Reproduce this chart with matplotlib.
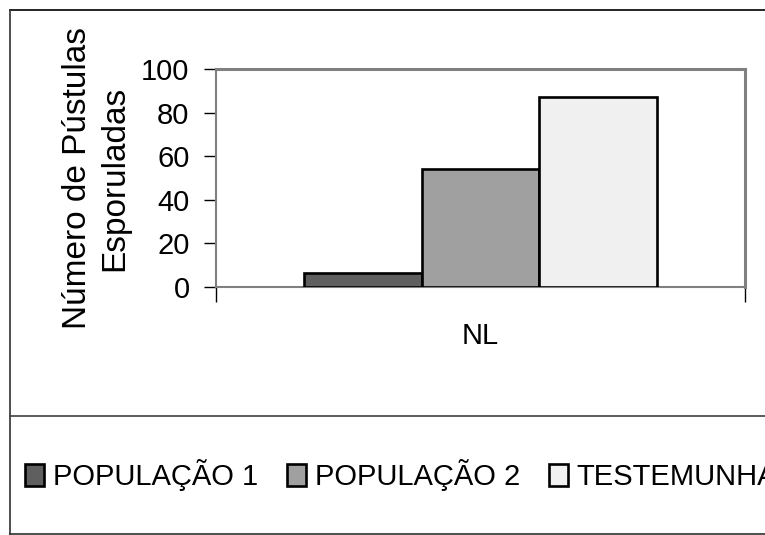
import matplotlib
matplotlib.use('Agg')
import matplotlib.pyplot as plt
from matplotlib.lines import Line2D

plt.rcParams['font.family'] = ['Liberation Sans', 'DejaVu Sans']

# dados do gráfico
categorias = ['NL']
series = ['POPULAÇÃO 1', 'POPULAÇÃO 2', 'TESTEMUNHA']
valores = [6.5, 54, 87]
cores = ['#5f5f5f', '#a0a0a0', '#f0f0f0']
yticks = [0, 20, 40, 60, 80, 100]

fig = plt.figure(figsize=(7.65, 5.35), dpi=100)
ax = fig.add_axes([216 / 765, 1 - 287 / 535, 529 / 765, 218 / 535])

largura = (2 / 3) / len(series)
for i, (nome, v, c) in enumerate(zip(series, valores, cores)):
    desloc = (i - 1) * largura
    ax.bar(0 + desloc, v, width=largura, color=c, edgecolor='black',
           linewidth=1.9, label=nome, zorder=3)

ax.set_xlim(-0.5, 0.5)
ax.set_ylim(0, 100)
ax.set_yticks(yticks)
ax.set_xticks([0])
ax.set_xticklabels(categorias, fontsize=21)
ax.set_xticks([-0.5, 0.5], minor=True)
ax.tick_params(axis='x', which='major', length=0, pad=25)
ax.tick_params(axis='x', which='minor', length=11, width=1, color='black')
ax.tick_params(axis='y', labelsize=21, length=9, width=1, color='black', pad=10)

for s in ['top', 'right']:
    ax.spines[s].set_color('#808080')
    ax.spines[s].set_linewidth(2.2)
for s in ['left', 'bottom']:
    ax.spines[s].set_color('#808080')
    ax.spines[s].set_linewidth(1.5)

ax.set_ylabel('Número de Pústulas\nEsporuladas', fontsize=24, linespacing=1.25)
ax.yaxis.label.set_va('center')
ax.yaxis.set_label_coords((96.5 - 216) / 529, 0.5)

# legenda
fig.legend(loc='center left', bbox_to_anchor=(25 / 765, 1 - 475 / 535),
           ncol=3, frameon=False, fontsize=21, handlelength=0.65,
           handleheight=0.75, handletextpad=0.3, columnspacing=1.0,
           borderpad=0, borderaxespad=0)

# moldura do gráfico
x0, y0, y1 = 10 / 765, 1 - 533.5 / 535, 1 - 10 / 535
fig.add_artist(Line2D([x0, 1.0], [y1, y1], color='black', lw=1.2))
fig.add_artist(Line2D([x0, x0], [y0, y1], color='#303030', lw=1.2))
fig.add_artist(Line2D([x0, 1.0], [y0, y0], color='#303030', lw=1.2))
ysep = 1 - 415.5 / 535
fig.add_artist(Line2D([x0, 1.0], [ysep, ysep], color='#404040', lw=1.2))

fig.savefig('out.png', dpi=100)
